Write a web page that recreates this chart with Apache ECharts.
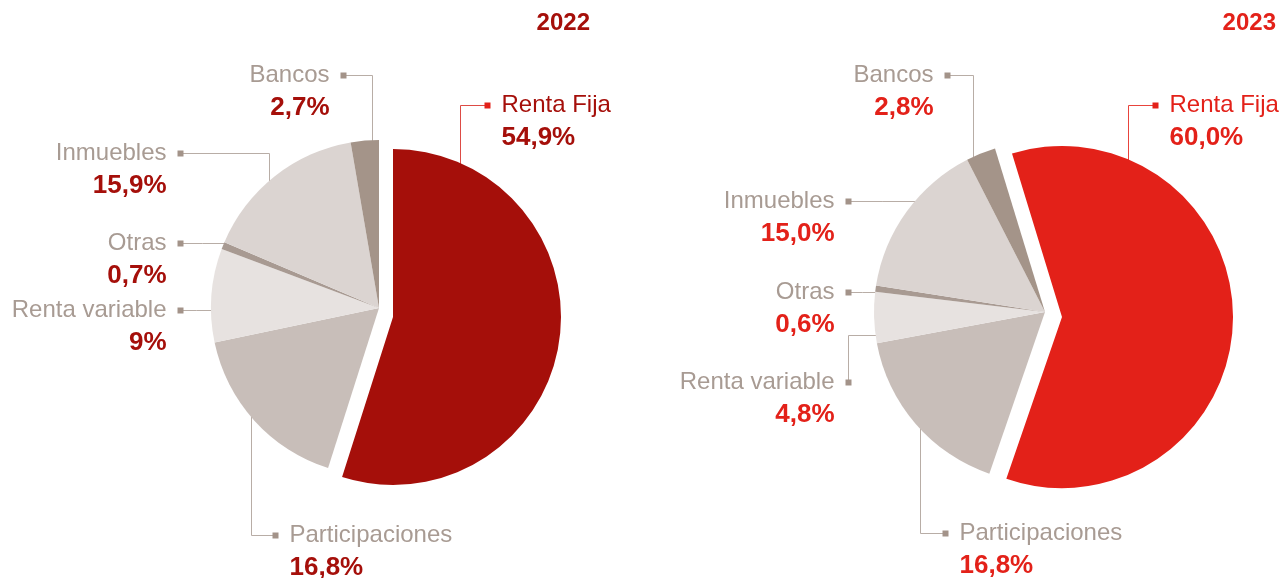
<!doctype html>
<html>
<head>
<meta charset="UTF-8">
<title>Cartera</title>
<script src="https://cdn.jsdelivr.net/npm/echarts@6/dist/echarts.min.js"></script>
<style>
  html, body { margin: 0; padding: 0; background: #fff; }
  #chart { width: 1288px; height: 578px; }
</style>
</head>
<body>
<div id="chart"></div>
<script>
// datos
var categorias = ['Renta Fija', 'Participaciones', 'Renta variable', 'Otras', 'Inmuebles', 'Bancos'];
var valores2022 = [54.9, 16.8, 9, 0.7, 15.9, 2.7];
var valores2023 = [60.0, 16.8, 4.8, 0.6, 15.0, 2.8];
var etiquetas2022 = ['54,9%', '16,8%', '9%', '0,7%', '15,9%', '2,7%'];
var etiquetas2023 = ['60,0%', '16,8%', '4,8%', '0,6%', '15,0%', '2,8%'];
var anios = ['2022', '2023'];

// estilos
var fuente = '"Liberation Sans", Arial, sans-serif';
var gris = '#A89B93';
var grisMarca = '#A39389';
var grisLinea = '#B8ADA6';
var coloresGris = [null, '#C8BEB9', '#E7E2E0', '#A89A92', '#DBD4D1', '#A49489'];
var rojo2022 = '#A50F0A';
var rojo2023 = '#E32119';

// geometria de cada tarta y del sector destacado
var geo2022 = { base: [379, 308], destacado: [393, 317], r: 168, startAngle: 90 };
var geo2023 = { base: [1045, 312], destacado: [1062, 317], r: 171, startAngle: 107 };

// posicion de las marcas de las etiquetas
var marcas2022 = {
  'Bancos': { m: [343, 75], lado: 'izq', ruta: 'hv', codo: 372 },
  'Renta Fija': { m: [487, 105], lado: 'der', ruta: 'hv', codo: 460 },
  'Inmuebles': { m: [180, 153], lado: 'izq', ruta: 'hv', codo: 269 },
  'Otras': { m: [180, 243], lado: 'izq', ruta: 'h' },
  'Renta variable': { m: [180, 310], lado: 'izq', ruta: 'h' },
  'Participaciones': { m: [275, 535], lado: 'der', ruta: 'hv', codo: 251 }
};
var marcas2023 = {
  'Bancos': { m: [947, 75], lado: 'izq', ruta: 'hv', codo: 973 },
  'Renta Fija': { m: [1155, 105], lado: 'der', ruta: 'hv', codo: 1128 },
  'Inmuebles': { m: [848, 201], lado: 'izq', ruta: 'h' },
  'Otras': { m: [848, 292], lado: 'izq', ruta: 'h' },
  'Renta variable': { m: [848, 382], lado: 'izq', ruta: 'vh', codo: 335 },
  'Participaciones': { m: [945, 533], lado: 'der', ruta: 'hv', codo: 920 }
};

function hacerLayout(geo, marcas) {
  return function (p) {
    var nombre = categorias[p.dataIndex];
    var mk = marcas[nombre];
    var c = nombre === 'Renta Fija' ? geo.destacado : geo.base;
    var cx = c[0], cy = c[1], r = geo.r - 1;
    var mx = mk.m[0] + 0.5, my = mk.m[1] + 0.5;
    var pts, d, ex, ey;
    if (mk.ruta === 'hv') {
      var x = mk.codo + 0.5;
      d = Math.sqrt(r * r - (x - cx) * (x - cx));
      ey = my < cy ? cy - d : cy + d;
      pts = [[x, ey], [x, my], [mx, my]];
    } else if (mk.ruta === 'vh') {
      var y = mk.codo + 0.5;
      d = Math.sqrt(r * r - (y - cy) * (y - cy));
      ex = mx < cx ? cx - d : cx + d;
      pts = [[ex, y], [mx, y], [mx, my]];
    } else {
      d = Math.sqrt(r * r - (my - cy) * (my - cy));
      ex = mx < cx ? cx - d : cx + d;
      pts = [[ex, my], [(ex + mx) / 2, my], [mx, my]];
    }
    var izq = mk.lado === 'izq';
    return {
      x: izq ? mk.m[0] + 3.5 : mk.m[0] - 2.5,
      y: mk.m[1] - 15,
      align: izq ? 'right' : 'left',
      verticalAlign: 'top',
      labelLinePoints: pts
    };
  };
}

function hacerRich(rojo) {
  return {
    n: { fontFamily: fuente, fontSize: 24, color: gris, lineHeight: 31, verticalAlign: 'middle' },
    nr: { fontFamily: fuente, fontSize: 24, color: rojo, lineHeight: 31, verticalAlign: 'middle' },
    v: { fontFamily: fuente, fontSize: 26, fontWeight: 'bold', color: rojo, lineHeight: 33, verticalAlign: 'middle' },
    e: { width: 11, height: 6, verticalAlign: 'middle' },
    f: { width: 17, height: 6, verticalAlign: 'middle' },
    c: { width: 6, height: 6, backgroundColor: grisMarca, verticalAlign: 'middle' },
    cr: { width: 6, height: 6, backgroundColor: rojo2023, verticalAlign: 'middle' }
  };
}

function hacerFormato(etiquetas, marcas) {
  return function (p) {
    var nombre = categorias[p.dataIndex];
    var esRF = nombre === 'Renta Fija';
    var n = esRF ? 'nr' : 'n';
    var c = esRF ? 'cr' : 'c';
    if (marcas[nombre].lado === 'izq') {
      return '{' + n + '|' + nombre + '}{e| }{' + c + '| }\n{v|' + etiquetas[p.dataIndex] + '}{f| }';
    }
    return '{' + c + '| }{e| }{' + n + '|' + nombre + '}\n{f| }{v|' + etiquetas[p.dataIndex] + '}';
  };
}

function seriesAnio(valores, etiquetas, geo, marcas, rojo, lineaRoja) {
  var base = {
    type: 'pie',
    silent: true,
    center: geo.base,
    radius: geo.r,
    startAngle: geo.startAngle,
    clockwise: true,
    avoidLabelOverlap: false,
    data: categorias.map(function (nombre, i) {
      return {
        name: nombre,
        value: valores[i],
        itemStyle: { color: i === 0 ? 'rgba(0,0,0,0)' : coloresGris[i] },
        labelLine: { lineStyle: { color: i === 0 ? lineaRoja : grisLinea } }
      };
    }),
    label: {
      show: true,
      position: 'outside',
      formatter: hacerFormato(etiquetas, marcas),
      rich: hacerRich(rojo)
    },
    labelLine: { show: true, lineStyle: { width: 1 } },
    labelLayout: hacerLayout(geo, marcas)
  };
  var destacado = {
    type: 'pie',
    silent: true,
    center: geo.destacado,
    radius: geo.r,
    startAngle: geo.startAngle,
    clockwise: true,
    data: categorias.map(function (nombre, i) {
      return {
        name: nombre,
        value: valores[i],
        itemStyle: { color: i === 0 ? rojo : 'rgba(0,0,0,0)' }
      };
    }),
    label: { show: false },
    labelLine: { show: false }
  };
  return [base, destacado];
}

var chart = echarts.init(document.getElementById('chart'));
chart.setOption({
  backgroundColor: '#fff',
  animation: false,
  title: [{
    text: anios[0], right: 698, top: 11, padding: 0,
    textStyle: { color: rojo2022, fontSize: 24, fontWeight: 'bold', fontFamily: fuente }
  }, {
    text: anios[1], right: 12, top: 11, padding: 0,
    textStyle: { color: rojo2023, fontSize: 24, fontWeight: 'bold', fontFamily: fuente }
  }],
  series: seriesAnio(valores2022, etiquetas2022, geo2022, marcas2022, rojo2022, '#DD4B45')
    .concat(seriesAnio(valores2023, etiquetas2023, geo2023, marcas2023, rojo2023, '#E8443C'))
});
</script>
</body>
</html>
